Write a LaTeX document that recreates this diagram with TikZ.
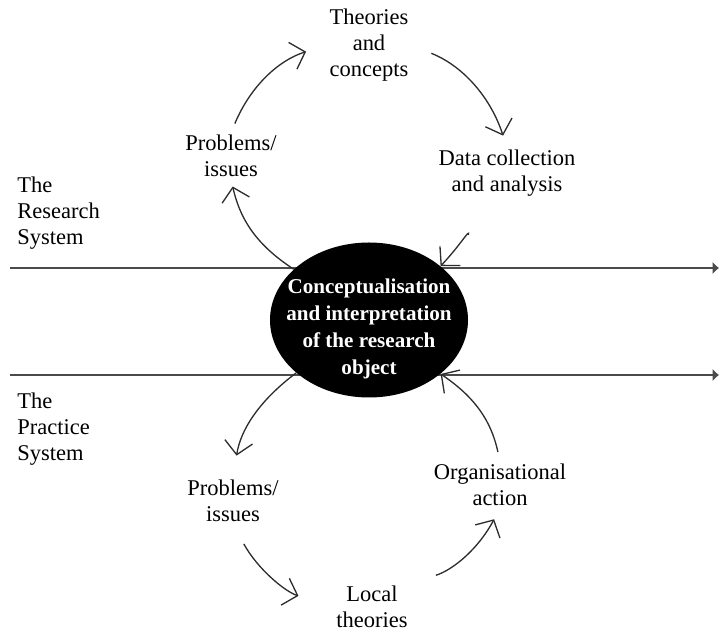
\documentclass[tikz,border=0pt]{standalone}
\usepackage{fontspec}
\setmainfont{Liberation Serif}
\usepackage{tikz}
\usetikzlibrary{arrows.meta,shapes.geometric,positioning}
\usepackage{xcolor}
\definecolor{sysgray}{RGB}{75,75,75}
\definecolor{cyclegray}{RGB}{45,45,45}
\tikzstyle{sysline} = [line width=1.6pt, color=sysgray, -{Latex[length=1.3mm,width=2.6mm]}]
\tikzstyle{cycle} = [line width=0.75pt, color=cyclegray, -{Straight Barb[length=2.6mm,width=5.6mm]}]
\tikzstyle{cyclelabel} = [align=center, inner sep=1pt, font=\fontsize{12.8}{15}\selectfont]
\tikzstyle{syslabel} = [align=left, anchor=west, inner sep=0pt, font=\fontsize{12.8}{15}\selectfont]
\tikzstyle{object} = [ellipse, fill=black, minimum width=3.96cm, minimum height=3.1cm, inner sep=0pt]

\begin{document}
\begin{tikzpicture}
\useasboundingbox (-7.38,-6.28) rectangle (7.0,6.4);

% The two systems
\coordinate (rsleft) at (-7.18,1.04);
\coordinate (rsright) at (7.0,1.04);
\coordinate (psleft) at (-7.18,-1.1);
\coordinate (psright) at (7.0,-1.1);
\draw[sysline] (rsleft) -- (rsright);
\draw[sysline] (psleft) -- (psright);
\node (research) [syslabel] at (-7.04,2.14) {The\\Research\\System};
\node (practice) [syslabel] at (-7.04,-2.18) {The\\Practice\\System};

% Research object in the middle
\node (concept) [object] at (0,0) {};
\node (concepttext) [align=center, text=white, font=\fontsize{12}{15.3}\selectfont\bfseries] at (0,-0.18)
  {Conceptualisation\\and interpretation\\of the research\\object};

% Research cycle
\node (theories) [cyclelabel] at (0,5.5) {Theories\\and\\concepts};
\node (probup) [cyclelabel] at (-2.76,3.28) {Problems/\\issues};
\node (data) [cyclelabel] at (2.76,2.94) {Data collection\\and analysis};

\draw[cycle, shorten >=0.15cm] (concept.146) to[bend left=22] (probup.south);
\draw[cycle, shorten <=0.2cm, shorten >=0.45cm] (probup.north) to[bend left=25] (theories.west);
\draw[cycle, shorten <=0.45cm, shorten >=0.25cm] (theories.east) to[bend left=25] (data.north);
\draw[cycle, shorten <=0.75cm] ([xshift=-0.6cm]data.south) to[bend left=15] (concept.37);

% Practice cycle
\node (problow) [cyclelabel] at (-2.72,-3.62) {Problems/\\issues};
\node (organ) [cyclelabel] at (2.62,-3.3) {Organisational\\action};
\node (local) [cyclelabel] at (0.06,-5.74) {Local\\theories};

\draw[cycle, shorten >=0.45cm] (concept.216) to[bend right=22] (problow.north);
\draw[cycle, shorten <=0.45cm, shorten >=0.75cm] (problow.south) to[bend right=22] (local.west);
\draw[cycle, shorten <=0.55cm, shorten >=0.25cm] (local.north east) to[bend right=22] (organ.south);
\draw[cycle, shorten <=0.2cm] (organ.north) to[bend right=22] (concept.-37);
\end{tikzpicture}
\end{document}
